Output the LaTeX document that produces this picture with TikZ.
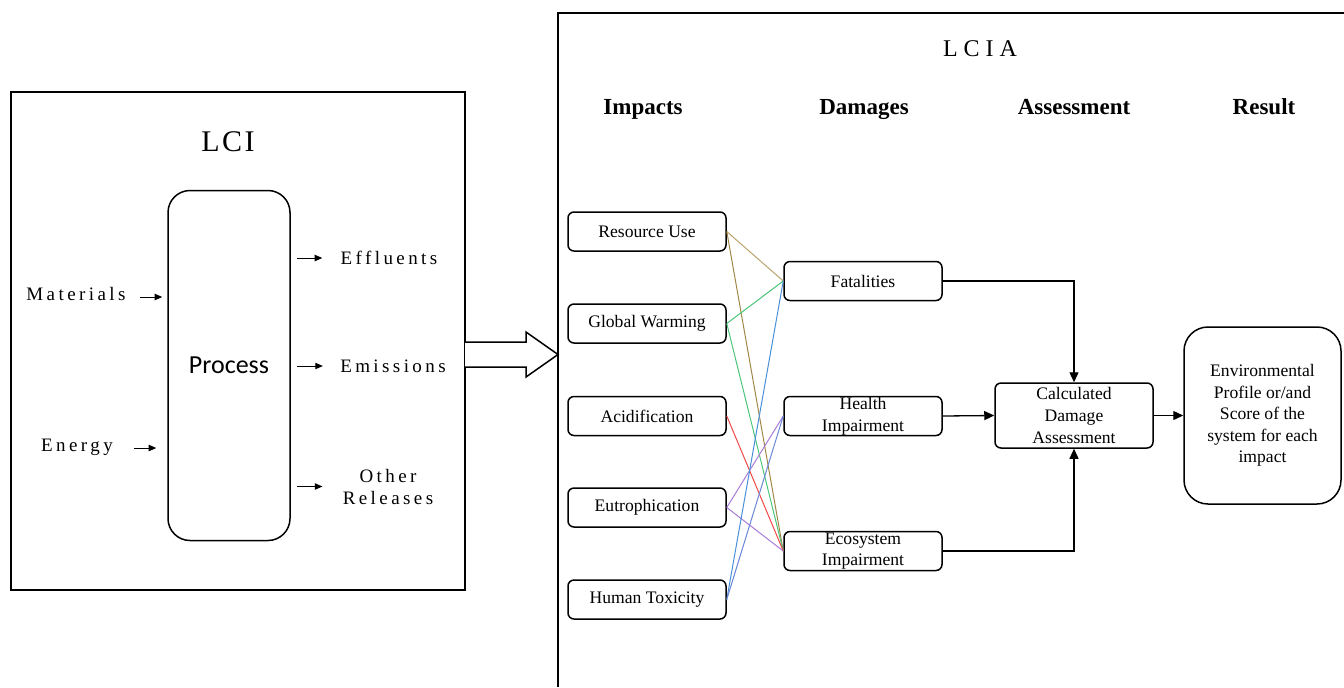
\documentclass[tikz,border=0pt]{standalone}
\usepackage{fontspec}
\setmainfont{Liberation Serif}
\newfontfamily\spacedfont[LetterSpace=18]{Liberation Serif}
\newfontfamily\titlefont[LetterSpace=25]{Liberation Serif}
\newfontfamily\lcifont[LetterSpace=8]{Liberation Serif}
\newfontfamily\procfont{Carlito}
\usetikzlibrary{arrows.meta}

\definecolor{tanA}{HTML}{BBA26C}
\definecolor{tanB}{HTML}{A08848}
\definecolor{greenline}{HTML}{4CC47A}
\definecolor{redline}{HTML}{F04848}
\definecolor{purpleline}{HTML}{A87CD8}
\definecolor{blueA}{HTML}{4A90D8}
\definecolor{blueB}{HTML}{6A88D8}

\tikzset{
  roundbox/.style={draw, line width=0.75pt, rounded corners=3pt, minimum width=79pt,
    minimum height=19.5pt, inner sep=0pt, align=center,
    font=\fontsize{8.8}{10.8}\selectfont},
  flow/.style={line width=0.65pt, -{Triangle[length=5pt,width=4.5pt]}},
  smallflow/.style={line width=0.5pt, -{Triangle[length=3.8pt,width=3.2pt]}},
  impline/.style={line width=0.5pt},
  spaced/.style={font=\spacedfont\fontsize{9.5}{11}\selectfont, inner sep=0pt, align=center},
  heading/.style={font=\bfseries\fontsize{11.5}{13}\selectfont, inner sep=0pt, anchor=base},
}

\begin{document}
\begin{tikzpicture}[x=0.5pt,y=-0.5pt]
            \useasboundingbox (0,0) rectangle (1344,687);

            % LCI part
            \draw[line width=0.75pt] (11,92) rectangle (465,590);
            \node[font=\lcifont\fontsize{15}{17}\selectfont] (lci) at (228,142) {LCI};
            \node[draw, line width=0.75pt, rounded corners=11pt, minimum width=61pt,
              minimum height=175pt, font=\procfont\fontsize{13}{15}\selectfont] (proc) at (229,365.5) {Process};

            \node[spaced] (mat) at (76,294) {Materials};
            \node[spaced] (ener) at (77,447) {Energy};
            \node[spaced] (eff) at (389,258) {Effluents};
            \node[spaced] (emis) at (393,366) {Emissions};
            \node[spaced] (other) at (388,486.5) {Other\\Releases};

            \coordinate (matin) at (140,297);
            \coordinate (enerin) at (134,448);
            \draw[smallflow, shorten >=2.5pt] (matin) -- (matin -| proc.west);
            \draw[smallflow, shorten >=5.5pt] (enerin) -- (enerin -| proc.west);
            \draw[smallflow, shorten <=3pt] (proc.east |- eff.west) -- ([xshift=-9pt]eff.west);
            \draw[smallflow, shorten <=3pt] (proc.east |- emis.west) -- ([xshift=-8.5pt]emis.west);
            \draw[smallflow, shorten <=3pt] (proc.east |- other.west) -- ([xshift=-10pt]other.west);

            % hollow arrow
            \draw[line width=0.75pt, fill=white] (465,342) -- (526,342) -- (526,332) -- (558,354.5)
              -- (526,377) -- (526,367) -- (465,367);

            % LCIA part
            \draw[line width=0.75pt] (558,687) -- (558,13) -- (1344,13);
            \node[font=\titlefont\fontsize{12}{14}\selectfont] (lcia) at (980,49) {LCIA};

            \node[heading] at (643,114) {Impacts};
            \node[heading] at (864,114) {Damages};
            \node[heading] at (1074,114) {Assessment};
            \node[heading] at (1264,114) {Result};

            \node[roundbox] (resuse) at (647,231.5) {Resource Use};
            \node[roundbox] (glob) at (647,323.5) {Global Warming};
            \node[roundbox] (acid) at (647,416) {Acidification};
            \node[roundbox] (eutro) at (647,507.5) {Eutrophication};
            \node[roundbox] (tox) at (647,599.5) {Human Toxicity};

            \node[roundbox] (fatal) at (863,281) {Fatalities};
            \node[roundbox] (health) at (863,416) {Health\\Impairment};
            \node[roundbox] (eco) at (863,551) {Ecosystem\\Impairment};

            \node[roundbox, minimum height=32.5pt] (calc) at (1074,415.5) {Calculated\\Damage\\Assessment};
            \node[roundbox, minimum width=78.5pt, minimum height=88.5pt, rounded corners=12pt]
              (result) at (1262.5,415.5) {Environmental\\Profile or/and\\Score of the\\system for each\\impact};

            \draw[impline, tanA] (resuse.east) -- (fatal.west);
            \draw[impline, tanB] (resuse.east) -- (eco.west);
            \draw[impline, greenline] (glob.east) -- (fatal.west);
            \draw[impline, greenline] (glob.east) -- (eco.west);
            \draw[impline, redline] (acid.east) -- (eco.west);
            \draw[impline, purpleline] (eutro.east) -- (health.west);
            \draw[impline, purpleline] (eutro.east) -- (eco.west);
            \draw[impline, blueA] (tox.east) -- (fatal.west);
            \draw[impline, blueB] (tox.east) -- (health.west);

            \draw[flow] (fatal.east) -| (calc.north);
            \draw[flow] (health.east) -- (calc.west);
            \draw[flow] (eco.east) -| (calc.south);
            \draw[flow] (calc.east) -- (result.west);
        \end{tikzpicture}
\end{document}
